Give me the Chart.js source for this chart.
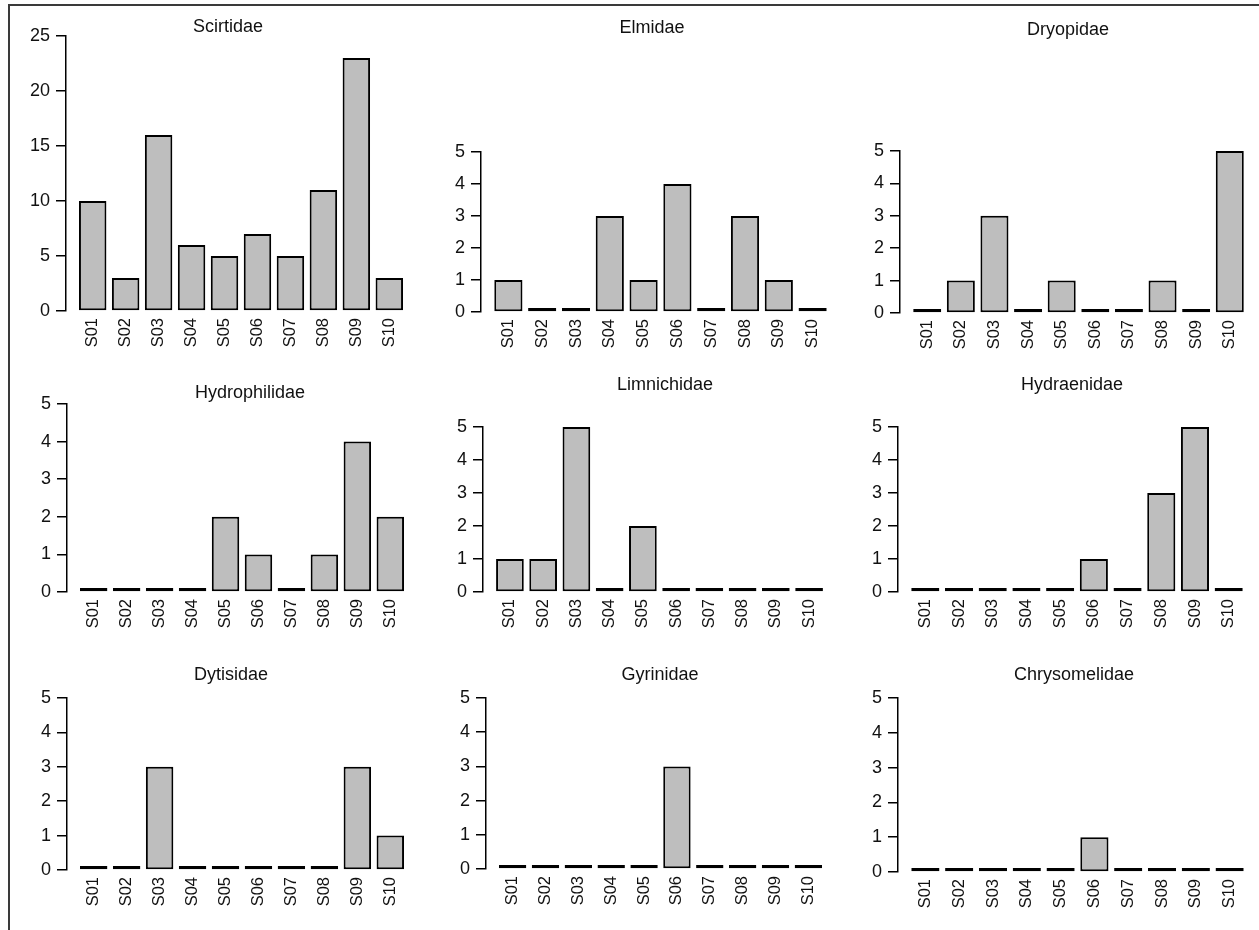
<!DOCTYPE html>
<html>
<head>
<meta charset="utf-8">
<script src="https://cdn.jsdelivr.net/npm/chart.js@4.4.1/dist/chart.umd.min.js"></script>
<style>
  body { margin: 0; background: #fff; width: 1259px; height: 930px; overflow: hidden; position: relative; }
  #frame { position: absolute; left: 8px; top: 4px; width: 1300px; height: 1000px;
           border-top: 2px solid #3a3a3a; border-left: 2px solid #3a3a3a; }
  canvas { position: absolute; }
</style>
</head>
<body>
<div id="frame"></div>
<script>
var sites = ["S01", "S02", "S03", "S04", "S05", "S06", "S07", "S08", "S09", "S10"];
var families = ["Scirtidae", "Elmidae", "Dryopidae", "Hydrophilidae", "Limnichidae",
                "Hydraenidae", "Dytisidae", "Gyrinidae", "Chrysomelidae"];

var scirtidae     = [10, 3, 16, 6, 5, 7, 5, 11, 23, 3];
var elmidae       = [1, 0, 0, 3, 1, 4, 0, 3, 1, 0];
var dryopidae     = [0, 1, 3, 0, 1, 0, 0, 1, 0, 5];
var hydrophilidae = [0, 0, 0, 0, 2, 1, 0, 1, 4, 2];
var limnichidae   = [1, 1, 5, 0, 2, 0, 0, 0, 0, 0];
var hydraenidae   = [0, 0, 0, 0, 0, 1, 0, 3, 5, 0];
var dytisidae     = [0, 0, 3, 0, 0, 0, 0, 0, 3, 1];
var gyrinidae     = [0, 0, 0, 0, 0, 3, 0, 0, 0, 0];
var chrysomelidae = [0, 0, 0, 0, 0, 1, 0, 0, 0, 0];

var counts = [scirtidae, elmidae, dryopidae, hydrophilidae, limnichidae,
              hydraenidae, dytisidae, gyrinidae, chrysomelidae];
var yMax  = [25, 5, 5, 5, 5, 5, 5, 5, 5];
var yStep = [5, 1, 1, 1, 1, 1, 1, 1, 1];

// panel placement on the page: axis x, plot right, top tick y, zero y, title x, title y
var layout = [
    [66, 416, 36, 311, 228, 27],
    [481, 840, 152, 312, 652, 28],
    [900, 1257, 151, 313, 1068, 30],
    [67, 417, 404, 592, 250, 393],
    [483, 836, 427, 592, 665, 385],
    [898, 1256, 427, 592, 1072, 385],
    [67, 417, 698, 870, 231, 675],
    [486, 835, 698, 869, 660, 675],
    [898, 1257, 698, 872, 1074, 675]
];

var FONT = "'Liberation Sans', Arial, sans-serif";
var Y_W = 60;
var X_H = 45;

var titlePlugin = {
    id: "panelTitle",
    afterDraw: function (chart, args, opts) {
        var ctx = chart.ctx;
        ctx.save();
        ctx.font = "18px " + FONT;
        ctx.fillStyle = "#111";
        ctx.textAlign = "center";
        ctx.textBaseline = "middle";
        ctx.fillText(opts.text, opts.x, opts.y);
        ctx.restore();
    }
};

function drawPanel(p) {
    var g = layout[p];
    var left = g[0] - Y_W;
    var top = g[5] - 20;
    var width = g[1] + 4 - left;
    var height = g[3] + X_H - top;

    var canvas = document.createElement("canvas");
    canvas.width = width;
    canvas.height = height;
    canvas.style.left = left + "px";
    canvas.style.top = top + "px";
    document.body.appendChild(canvas);

    var points = counts[p].map(function (v, i) { return { x: i + 1, y: v }; });

    new Chart(canvas.getContext("2d"), {
        type: "bar",
        data: {
            datasets: [{
                data: points,
                backgroundColor: "#bebebe",
                borderColor: "#000",
                borderWidth: 2,
                borderSkipped: false,
                minBarLength: 4,
                barPercentage: 1 / 1.2,
                categoryPercentage: 1,
                clip: false
            }]
        },
        options: {
            responsive: false,
            animation: false,
            devicePixelRatio: 1,
            layout: { padding: { top: g[2] - top, right: 4, left: 0, bottom: 0 } },
            plugins: {
                legend: { display: false },
                tooltip: { enabled: false },
                panelTitle: { text: families[p], x: g[4] - left, y: g[5] - top }
            },
            scales: {
                x: {
                    type: "linear",
                    min: 0.19,
                    max: 10.81,
                    offset: false,
                    grid: { display: false, drawTicks: false, offset: false },
                    border: { display: false },
                    afterBuildTicks: function (scale) {
                        scale.ticks = sites.map(function (s, i) { return { value: i + 1 }; });
                    },
                    afterFit: function (scale) { scale.height = X_H; },
                    ticks: {
                        autoSkip: false,
                        minRotation: 90,
                        maxRotation: 90,
                        padding: 7,
                        color: "#111",
                        font: { family: FONT, size: 16.5 },
                        callback: function (value) { return sites[value - 1]; }
                    }
                },
                y: {
                    min: 0,
                    max: yMax[p],
                    grid: {
                        display: true,
                        drawOnChartArea: false,
                        drawTicks: true,
                        tickLength: 10,
                        color: "#000",
                        lineWidth: 1.5
                    },
                    border: { display: true, color: "#000", width: 1.5 },
                    afterFit: function (scale) { scale.width = Y_W; },
                    ticks: {
                        stepSize: yStep[p],
                        padding: 6,
                        color: "#111",
                        font: { family: FONT, size: 18 }
                    }
                }
            }
        },
        plugins: [titlePlugin]
    });
}

for (var p = 0; p < families.length; p++) {
    drawPanel(p);
}
</script>
</body>
</html>
